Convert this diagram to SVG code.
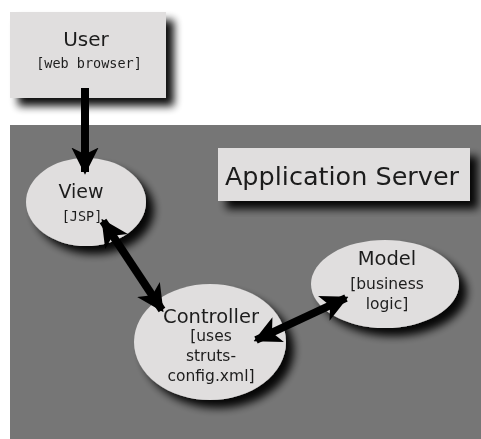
<svg xmlns="http://www.w3.org/2000/svg" width="481" height="439" viewBox="0 0 481 439">
<defs>
<filter id="sh" x="-30%" y="-30%" width="160%" height="160%">
<feGaussianBlur in="SourceAlpha" stdDeviation="4"/>
<feOffset dx="8" dy="8" result="b"/>
<feComponentTransfer><feFuncA type="linear" slope="0.95"/></feComponentTransfer>
<feMerge><feMergeNode/><feMergeNode in="SourceGraphic"/></feMerge>
</filter>
<marker id="ah" viewBox="0 0 10 10" refX="9" refY="5" markerWidth="3.4" markerHeight="3.4" orient="auto-start-reverse" markerUnits="strokeWidth">
<path d="M0,0 L10,5 L0,10 L2.5,5 Z" fill="#000"/>
</marker>
<style>
.shape{fill:#e0dede;}
.t{font-family:"DejaVu Sans",sans-serif;fill:#1e1e1e;text-anchor:middle;}
.m{font-family:"DejaVu Sans Mono",monospace;fill:#1e1e1e;text-anchor:middle;font-size:13.5px;}
.c{stroke:#000;stroke-width:8;fill:none;}
</style>
</defs>
<rect x="0" y="0" width="481" height="439" fill="#fff"/>
<rect id="server-bg" x="10" y="125" width="471" height="314" fill="#767676"/>
<g id="user" filter="url(#sh)">
<rect class="shape" x="10" y="12" width="156" height="86"/>
<text class="t" x="86" y="46" font-size="20">User</text>
<text class="m" x="89" y="68">[web browser]</text>
</g>
<g id="appserver" filter="url(#sh)">
<rect class="shape" x="218" y="148" width="252" height="53"/>
<text class="t" x="342" y="185" font-size="25.5">Application Server</text>
</g>
<g id="view" filter="url(#sh)">
<ellipse class="shape" cx="86" cy="202" rx="60" ry="44"/>
<text class="t" x="81" y="198" font-size="19">View</text>
<text class="m" x="82" y="221">[JSP]</text>
</g>
<g id="model" filter="url(#sh)">
<ellipse class="shape" cx="385" cy="284" rx="74" ry="44"/>
<text class="t" x="387" y="265" font-size="19.5">Model</text>
<text class="t" x="387" y="289" font-size="15.5">[business</text>
<text class="t" x="387" y="309" font-size="15.5">logic]</text>
</g>
<g id="controller" filter="url(#sh)">
<ellipse class="shape" cx="210" cy="342" rx="76" ry="58"/>
<text class="t" x="211" y="323" font-size="19.5">Controller</text>
<text class="t" x="211" y="341" font-size="15.5">[uses</text>
<text class="t" x="211" y="361" font-size="15.5">struts-</text>
<text class="t" x="211" y="381" font-size="15.5">config.xml]</text>
</g>
<g id="connectors">
<line class="c" x1="85" y1="88" x2="85" y2="172" marker-end="url(#ah)"/>
<line class="c" x1="103" y1="221" x2="162" y2="310" marker-start="url(#ah)" marker-end="url(#ah)"/>
<line class="c" x1="256" y1="340" x2="346" y2="298" marker-start="url(#ah)" marker-end="url(#ah)"/>
</g>
</svg>
